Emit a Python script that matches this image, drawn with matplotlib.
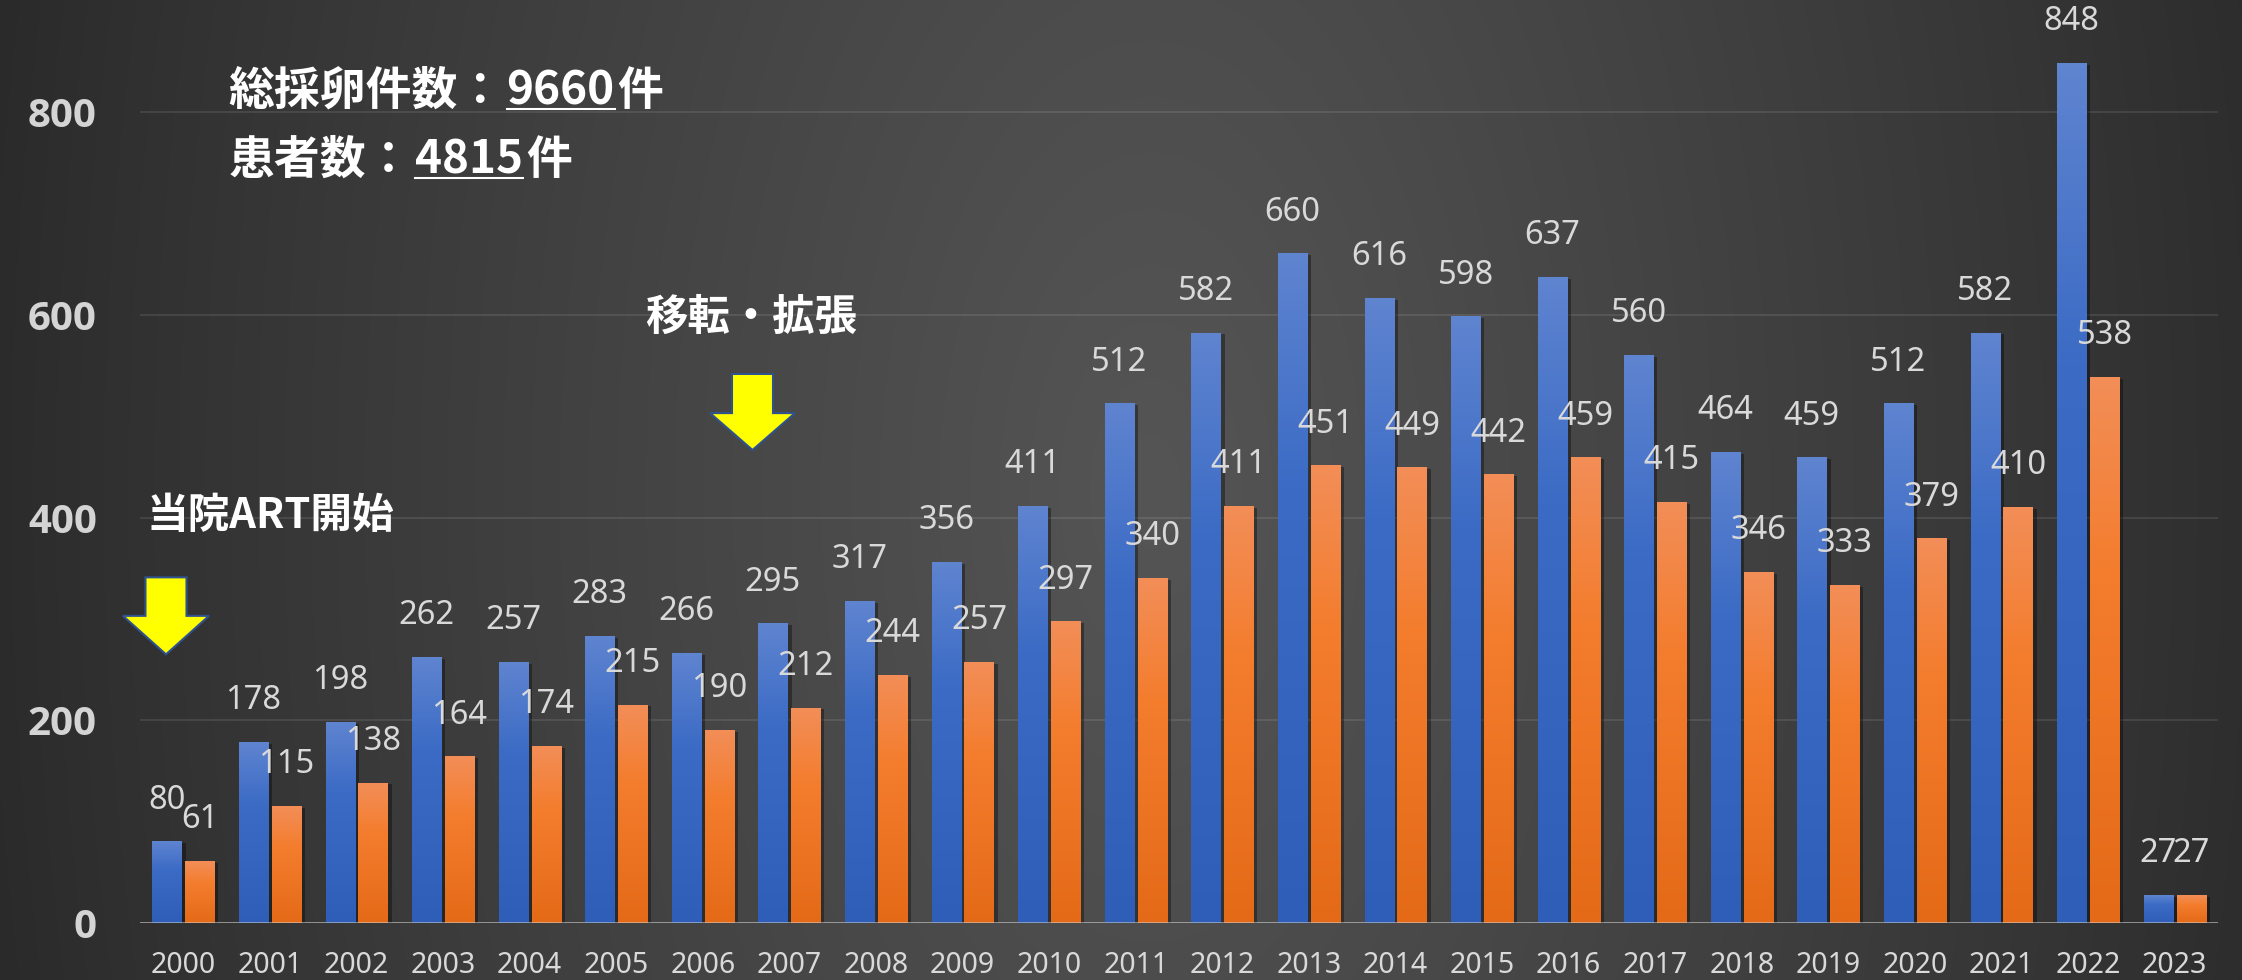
import matplotlib
matplotlib.use('Agg')
import matplotlib.pyplot as plt
import matplotlib.patheffects as pe
from matplotlib.colors import LinearSegmentedColormap
from matplotlib.patches import Polygon
from matplotlib.lines import Line2D
from matplotlib.transforms import IdentityTransform
import numpy as np

years = [str(y) for y in range(2000, 2024)]
eggs = [80, 178, 198, 262, 257, 283, 266, 295, 317, 356, 411, 512,
        582, 660, 616, 598, 637, 560, 464, 459, 512, 582, 848, 27]
patients = [61, 115, 138, 164, 174, 215, 190, 212, 244, 257, 297, 340,
            411, 451, 449, 442, 459, 415, 346, 333, 379, 410, 538, 27]
yticks = [0, 200, 400, 600, 800]

W, H = 2242, 980
NUM_FONT = 'Noto Sans'
BOLD_FONT = 'Open Sans'
JP_FONT = ['Noto Sans CJK JP', 'DejaVu Sans']

fig = plt.figure(figsize=(W / 100, H / 100), dpi=100)

# dark background, lighter towards the middle
bg = fig.add_axes([0, 0, 1, 1])
yy, xx = np.mgrid[0:H:4, 0:W:4]
d = np.sqrt(((xx - 1150) / 1180) ** 2 + ((yy - 490) / 2200) ** 2)
v = (0x2a + (0x55 - 0x2a) * np.clip(1 - d, 0, 1) ** 0.9) / 255
bg.imshow(np.dstack([v, v, v]), extent=(0, W, H, 0), aspect='auto',
          interpolation='bilinear')
bg.axis('off')

ax = fig.add_axes([140 / W, 57 / H, 2078 / W, 923 / H])
ax.patch.set_alpha(0)

x = np.arange(len(years))
width = 0.335
off = 0.19

blue_cm = LinearSegmentedColormap.from_list(
    'b', [(0, '#5f84d0'), (0.35, '#3b6bc5'), (1, '#2e5eb8')])
orange_cm = LinearSegmentedColormap.from_list(
    'o', [(0, '#f28e58'), (0.35, '#f47d2e'), (1, '#e46a17')])

shadow = [pe.SimplePatchShadow(offset=(3, -1), shadow_rgbFace='black', alpha=0.35),
          pe.Normal()]
b1 = ax.bar(x - off, eggs, width, color='#3b6bc5', zorder=2)
b2 = ax.bar(x + off, patients, width, color='#f47d2e', zorder=2)

grad = np.linspace(0, 1, 256).reshape(-1, 1)
for bars, cm in [(b1, blue_cm), (b2, orange_cm)]:
    for b in bars:
        b.set_path_effects(shadow)
        x0 = b.get_x()
        ax.imshow(grad, cmap=cm, extent=(x0, x0 + b.get_width(), 0, b.get_height()),
                  aspect='auto', interpolation='bilinear', zorder=3)
        ax.annotate(str(int(b.get_height())), (x0 + b.get_width() / 2, b.get_height()),
                    xytext=(0, 30), textcoords='offset points', ha='center',
                    va='center', fontsize=23.5, color='#d9d9d9', family=NUM_FONT,
                    zorder=5)

ax.set_xlim(-0.5, len(years) - 0.5)
ax.set_ylim(0, 910.5)
ax.set_yticks(yticks)
ax.set_yticklabels([str(t) for t in yticks], fontsize=29, fontweight='bold',
                   color='#d4d4d4', family=BOLD_FONT)
ax.set_xticks(x)
ax.set_xticklabels(years, fontsize=20.5, color='#d9d9d9', family=NUM_FONT)
ax.tick_params(axis='y', length=0, pad=31)
ax.tick_params(axis='x', length=0, pad=20)
for s in ax.spines.values():
    s.set_visible(False)
ax.yaxis.grid(True, color='white', alpha=0.1, lw=1.3)
ax.set_axisbelow(True)
ax.axhline(0, color='#d0d0d0', alpha=0.6, lw=2, zorder=4)


def down_arrow(xc, top, neck, tip, shaft_hw, head_hw):
    pts = [(xc - shaft_hw, top), (xc + shaft_hw, top), (xc + shaft_hw, neck),
           (xc + head_hw, neck), (xc, tip), (xc - head_hw, neck), (xc - shaft_hw, neck)]
    ax.add_patch(Polygon(pts, closed=True, fc='#ffff00', ec='#2f528f', lw=1.5,
                         zorder=6, clip_on=False))


down_arrow(-0.2, 341, 303, 265, 0.237, 0.497)
down_arrow(6.574, 541.6, 503, 466.6, 0.237, 0.49)

ax.text(-0.42, 401.5, '当院ART開始', fontsize=30, fontweight='bold', color='white',
        family=JP_FONT, ha='left', va='center', zorder=6)
ax.text(5.33, 596.8, '移転・拡張', fontsize=30.5, fontweight='bold', color='white',
        family=JP_FONT, ha='left', va='center', zorder=6)

# summary lines with underlined numbers
renderer = fig.canvas.get_renderer()


def rich_line(xv, yv, parts):
    px, py = ax.transData.transform((xv, yv))
    for s, ul in parts:
        t = fig.text(px, py, s, transform=IdentityTransform(), fontsize=33,
                     fontweight='bold', color='white', family=JP_FONT,
                     ha='left', va='baseline', zorder=7)
        bb = t.get_window_extent(renderer)
        if ul:
            fig.add_artist(Line2D([bb.x0, bb.x1], [py - 4, py - 4], color='white',
                                  lw=1.5, transform=IdentityTransform()))
        px = bb.x1 + 3


rich_line(0.52, 807, [('総採卵件数：', False), ('9660', True), ('件', False)])
rich_line(0.52, 739, [('患者数：', False), ('4815', True), ('件', False)])

fig.savefig('out.png', dpi=100)
